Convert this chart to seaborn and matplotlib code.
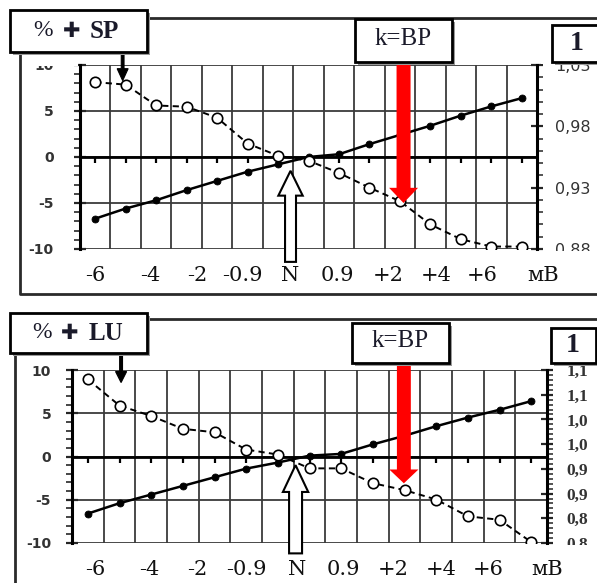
import numpy as np
import pandas as pd
import matplotlib
matplotlib.use("Agg")
import matplotlib.pyplot as plt
import matplotlib.transforms as mtransforms
import seaborn as sns
from matplotlib.patches import Rectangle, FancyArrow
from matplotlib.lines import Line2D
from matplotlib.ticker import MultipleLocator

# ---------------- data ----------------
x_labels = ["-6", "-4", "-2", "-0.9", "N", "0.9", "+2", "+4", "+6"]
unit_label = "мВ"
steps = list(range(15))

sp_pct = [-6.7, -5.6, -4.7, -3.6, -2.6, -1.6, -0.8, 0.0, 0.3, 1.4, 2.4, 3.4, 4.5, 5.5, 6.4]
sp_k = [1.016, 1.014, 0.997, 0.996, 0.987, 0.966, 0.956, 0.952, 0.942, 0.930,
        0.919, 0.900, 0.888, 0.882, 0.882]
lu_pct = [-6.6, -5.4, -4.4, -3.4, -2.4, -1.4, -0.7, 0.1, 0.3, 1.4, 2.4, 3.5, 4.5, 5.4, 6.4]
lu_k = [1.131, 1.078, 1.057, 1.031, 1.024, 0.989, 0.979, 0.951, 0.951, 0.921,
        0.907, 0.888, 0.854, 0.847, 0.802]

pct_ticks = [-10, -5, 0, 5, 10]
sp_k_ticks = [0.88, 0.93, 0.98, 1.03]
sp_k_ticklabels = ["0,88", "0,93", "0,98", "1,03"]
lu_k_ticks = [0.80, 0.85, 0.90, 0.95, 1.00, 1.05, 1.10, 1.15]
lu_k_ticklabels = ["0,8", "0,8", "0,9", "0,9", "1,0", "1,0", "1,1", "1,1"]

# ---------------- layout ----------------
W, H = 597, 583


def fx(x):
    return x / W


def fy(y):
    return 1 - y / H


sns.set_theme(style="white")
plt.rcParams["font.family"] = ["DejaVu Sans"]

fig = plt.figure(figsize=(W / 100, H / 100), dpi=100)
fig.patch.set_facecolor("white")

GRID = "#3a3a3a"
SERIF = "Liberation Serif"
XFONT = "DejaVu Serif"


def draw_panel(ax, pct, kv, klim, kticks, kticklabels, label_pos, unit_pos,
               xpad, lpad, rpad, rfont, rweight, rsize):
    pos = [s + 0.5 for s in steps]
    df = pd.DataFrame({"pos": pos, "pct": pct, "k": kv})
    axr = ax.twinx()

    ax.set_xlim(0, 15)
    ax.set_ylim(-10, 10)
    ax.set_facecolor("white")

    # grid
    ax.xaxis.set_minor_locator(MultipleLocator(1))
    ax.grid(which="minor", axis="x", color=GRID, lw=1.3)
    ax.grid(which="major", axis="x", visible=False)
    ax.set_yticks(pct_ticks)
    ax.set_yticklabels([str(t) for t in pct_ticks])
    ax.grid(which="major", axis="y", color=GRID, lw=1.3)
    ax.yaxis.set_minor_locator(MultipleLocator(1))
    ax.axhline(0, color="black", lw=2.0, zorder=1.6)
    ax.plot(pos, np.zeros(len(pos)), ls="none", marker=3, ms=4, mew=1.6,
            color="black", zorder=1.7)

    # x labels
    ax.set_xticks(label_pos)
    ax.set_xticklabels(x_labels)
    ax.tick_params(axis="x", which="both", length=0, pad=xpad, labelsize=15,
                   labelcolor="#111")
    for lab in ax.get_xticklabels():
        lab.set_fontfamily(XFONT)
    off = mtransforms.ScaledTranslation(0, -xpad / 72, fig.dpi_scale_trans)
    ax.text(unit_pos, -10, unit_label, transform=ax.transData + off,
            fontsize=15, family=XFONT, color="#111", ha="center", va="top",
            clip_on=False)

    # left axis
    ax.tick_params(axis="y", which="major", direction="inout", length=8,
                   width=1.6, pad=lpad, labelsize=10, labelcolor="#333",
                   left=True, right=False)
    ax.tick_params(axis="y", which="minor", direction="out", length=4,
                   width=1.2, left=True, right=False)
    for lab in ax.get_yticklabels():
        lab.set_fontweight("bold")
    for side in ["top", "bottom", "right"]:
        ax.spines[side].set_visible(False)
    ax.spines["left"].set_linewidth(2.2)
    ax.spines["left"].set_color("black")

    # series
    sns.lineplot(data=df, x="pos", y="pct", ax=ax, color="black", lw=1.8,
                 marker="o", ms=5, mec="black", mew=0.6, zorder=3)
    sns.lineplot(data=df, x="pos", y="k", ax=axr, color="black", lw=1.4,
                 linestyle=(0, (3.2, 2.2)), marker="o", ms=7.5, mfc="white",
                 mec="black", mew=1.2, zorder=3)
    ax.set_xlabel("")
    ax.set_ylabel("")
    axr.set_xlabel("")
    axr.set_ylabel("")

    # right axis
    axr.set_ylim(*klim)
    axr.set_yticks(kticks)
    axr.set_yticklabels(kticklabels)
    axr.yaxis.set_minor_locator(MultipleLocator(0.01))
    axr.tick_params(axis="y", which="major", direction="inout", length=8,
                    width=1.6, pad=rpad, labelsize=rsize, labelcolor="#333",
                    right=True, left=False)
    axr.tick_params(axis="y", which="minor", direction="out", length=4,
                    width=1.1, right=True, left=False)
    for lab in axr.get_yticklabels():
        lab.set_fontfamily(rfont)
        lab.set_fontweight(rweight)
    for side in ["top", "bottom", "left"]:
        axr.spines[side].set_visible(False)
    axr.spines["right"].set_linewidth(2.2)
    axr.spines["right"].set_color("black")
    ax.set_xlim(0, 15)
    return axr


def add_arrow(axr, ax, x, y0, y1, width, hw, hl, fc, ec, lw):
    a = FancyArrow(x, y0, 0, y1 - y0, width=width, head_width=hw,
                   head_length=hl, length_includes_head=True, fc=fc, ec=ec,
                   lw=lw, transform=ax.transData, clip_on=False, zorder=6)
    axr.add_artist(a)


# ---- top panel ----
ax1 = fig.add_axes([fx(80), fy(249), (537 - 80) / W, (249 - 65) / H])
ax1r = draw_panel(ax1, sp_pct, sp_k, (0.88, 1.03), sp_k_ticks, sp_k_ticklabels,
                  [0.49, 2.30, 3.86, 5.32, 6.9, 8.45, 10.1, 11.7, 13.2], 15.2,
                  xpad=12.5, lpad=15, rpad=9, rfont="DejaVu Sans",
                  rweight="normal", rsize=11.5)
add_arrow(ax1r, ax1, 10.62, 10.0, -5.0, 0.46, 0.95, 1.65, "#ff0000", "none", 0)
add_arrow(ax1r, ax1, 6.91, -11.4, -1.5, 0.36, 0.8, 2.7, "white", "black", 1.5)
add_arrow(ax1r, ax1, 1.4, 11.4, 8.3, 0.09, 0.36, 1.3, "black", "black", 0.8)

# ---- bottom panel ----
ax2 = fig.add_axes([fx(72), fy(543), (547 - 72) / W, (543 - 370) / H])
ax2r = draw_panel(ax2, lu_pct, lu_k, (0.80, 1.15), lu_k_ticks, lu_k_ticklabels,
                  [0.73, 2.43, 3.95, 5.52, 7.1, 8.56, 10.14, 11.65, 13.14], 15.0,
                  xpad=12, lpad=11, rpad=10, rfont=SERIF, rweight="bold",
                  rsize=12.5)
add_arrow(ax2r, ax2, 10.48, 10.8, -3.1, 0.44, 0.92, 1.6, "#ff0000", "none", 0)
add_arrow(ax2r, ax2, 7.06, -11.2, -1.0, 0.41, 0.8, 3.1, "white", "black", 1.5)
add_arrow(ax2r, ax2, 1.55, 11.9, 8.55, 0.09, 0.35, 1.27, "black", "black", 0.8)


# ---------------- figure decorations ----------------
def frect(x0, y0, x1, y1, **kw):
    r = Rectangle((fx(x0), fy(y1)), (x1 - x0) / W, (y1 - y0) / H,
                  transform=fig.transFigure, **kw)
    fig.add_artist(r)


def fline(pts, **kw):
    xs = [fx(p[0]) for p in pts]
    ys = [fy(p[1]) for p in pts]
    fig.add_artist(Line2D(xs, ys, transform=fig.transFigure, **kw))


# label clipping strips (as in the source image)
frect(25, 50, 78, 66, fc="white", ec="none", zorder=5)
frect(541, 50, 597, 64, fc="white", ec="none", zorder=5)
frect(545, 251, 597, 262, fc="white", ec="none", zorder=5)
frect(549, 545, 597, 556, fc="white", ec="none", zorder=5)

# outer frames
fline([(147, 18), (597, 18)], color="#2a2a2a", lw=2.0, zorder=6)
fline([(20, 52), (20, 294), (597, 294)], color="#2a2a2a", lw=2.0, zorder=6)
fline([(147, 319), (597, 319)], color="#2a2a2a", lw=2.0, zorder=6)
fline([(15, 353), (15, 583)], color="#2a2a2a", lw=2.0, zorder=6)


def box(x0, y0, x1, y1):
    frect(x0 + 3, y0 + 3, x1 + 3, y1 + 3, fc="#9a9a9a", ec="none", zorder=7)
    frect(x0, y0, x1, y1, fc="white", ec="black", lw=2.0, zorder=8)


box(10, 10, 147, 52)
box(355, 19, 452, 62)
box(552, 25, 602, 62)
box(10, 313, 147, 353)
box(352, 323, 449, 363)
box(551, 328, 596, 363)

TXT = dict(transform=fig.transFigure, ha="center", va="center", zorder=9,
           color="#1a1a2a")
fig.text(fx(43), fy(31), "%", fontsize=17, family=SERIF, **TXT)
fig.text(fx(72), fy(31), "✚", fontsize=15, family="DejaVu Sans", **TXT)
fig.text(fx(104), fy(31), "SP", fontsize=18, family=SERIF, weight="bold", **TXT)
fig.text(fx(403), fy(39), "k=BP", fontsize=18, family=SERIF, **TXT)
fig.text(fx(577), fy(43), "1", fontsize=20, family=SERIF, weight="bold", **TXT)

fig.text(fx(42), fy(333), "%", fontsize=17, family=SERIF, **TXT)
fig.text(fx(70), fy(333), "✚", fontsize=15, family="DejaVu Sans", **TXT)
fig.text(fx(106), fy(333), "LU", fontsize=18, family=SERIF, weight="bold", **TXT)
fig.text(fx(400), fy(341), "k=BP", fontsize=18, family=SERIF, **TXT)
fig.text(fx(573), fy(346), "1", fontsize=20, family=SERIF, weight="bold", **TXT)

fig.savefig("out.png", dpi=100, facecolor="white")
